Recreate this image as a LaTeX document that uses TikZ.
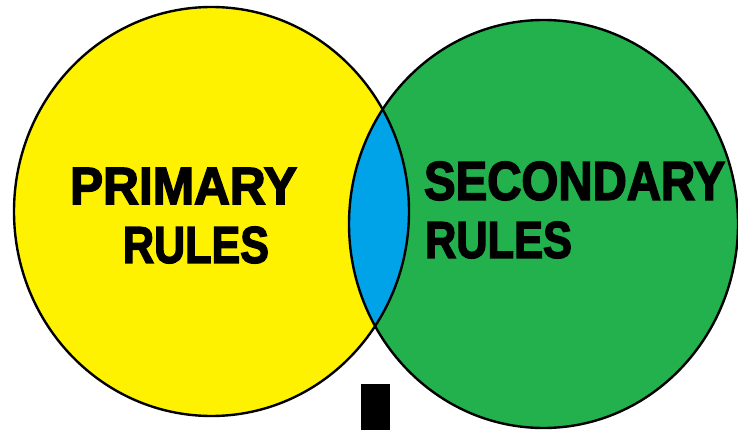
\documentclass[tikz,border=0pt]{standalone}
\usepackage{fontspec}
\usepackage{graphicx}
\newfontfamily\heavyfont{Liberation Sans Bold}[FakeBold=3]
\definecolor{vyellow}{RGB}{255,242,0}
\definecolor{vgreen}{RGB}{34,177,76}
\definecolor{vblue}{RGB}{0,162,232}
\begin{document}
\begin{tikzpicture}[x=1pt,y=-1pt,
  outline/.style={draw=black,line width=2.4pt},
  label/.style={inner sep=0pt,outer sep=0pt,text=black,font=\heavyfont}]
\useasboundingbox (0,0) rectangle (738,430);
% filled circles
\fill[vyellow] (211.5,211.5) ellipse [x radius=197.5,y radius=204.5];
\fill[vgreen] (543.5,224) ellipse [x radius=194.5,y radius=204];
\begin{scope}
  \clip (211.5,211.5) ellipse [x radius=197.5,y radius=204.5];
  \fill[vblue] (543.5,224) ellipse [x radius=194.5,y radius=204];
\end{scope}
\draw[outline] (211.5,211.5) ellipse [x radius=197.5,y radius=204.5];
\draw[outline] (543.5,224) ellipse [x radius=194.5,y radius=204];
% bar at bottom
\fill[black] (361,384) rectangle (390,432);
% labels
\node[label] (prim) at (183.5,186) {\resizebox{227pt}{36pt}{PRIMARY}};
\node[label] (primr) at (196,245) {\resizebox{146pt}{36pt}{RULES}};
\node[label,anchor=west] (sec) at (424,181) {\resizebox{301pt}{38pt}{SECONDARY}};
\node[label,anchor=west] (secr) at (425,240) {\resizebox{147pt}{36pt}{RULES}};
\end{tikzpicture}
\end{document}
